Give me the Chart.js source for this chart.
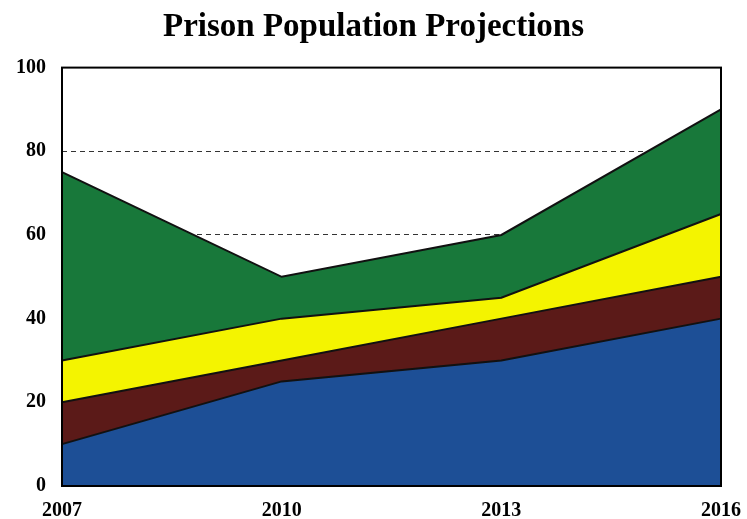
<!DOCTYPE html>
<html>
<head>
<meta charset="utf-8">
<script src="https://cdn.jsdelivr.net/npm/chart.js@4/dist/chart.umd.min.js"></script>
<style>
  html, body { margin: 0; padding: 0; background: #fff; }
  #wrap { width: 747px; height: 519px; }
</style>
</head>
<body>
<div id="wrap"><canvas id="myChart"></canvas></div>
<script>
// data (stacked values per layer)
const years = ["2007", "2010", "2013", "2016"];
const blueVals = [10, 25, 30, 40];
const maroonVals = [10, 5, 10, 10];
const yellowVals = [10, 10, 5, 15];
const greenVals = [45, 10, 15, 25];
const yTicks = [0, 20, 40, 60, 80, 100];

const serif = "'Liberation Serif', 'DejaVu Serif', serif";

function layer(label, vals, color, fill) {
    return {
        label: label,
        data: vals,
        backgroundColor: color,
        borderColor: "#111",
        borderWidth: 2,
        pointRadius: 0,
        fill: fill,
        tension: 0
    };
}

// black frame round the plot area
const frame = {
    id: "frame",
    afterDatasetsDraw(chart) {
        const a = chart.chartArea;
        const ctx = chart.ctx;
        ctx.save();
        ctx.strokeStyle = "#000";
        ctx.lineWidth = 2;
        ctx.strokeRect(a.left, a.top, a.right - a.left, a.bottom - a.top);
        ctx.restore();
    }
};

const ctx = document.getElementById("myChart").getContext("2d");
const chart = new Chart(ctx, {
    type: "line",
    data: {
        labels: years,
        datasets: [
            layer("Blue", blueVals, "#1d4f96", "origin"),
            layer("Maroon", maroonVals, "#5b1a18", "-1"),
            layer("Yellow", yellowVals, "#f4f400", "-1"),
            layer("Green", greenVals, "#18783a", "-1")
        ]
    },
    options: {
        responsive: true,
        maintainAspectRatio: false,
        animation: false,
        layout: { padding: 0 },
        plugins: {
            legend: { display: false },
            tooltip: { enabled: false },
            title: {
                display: true,
                text: "Prison Population Projections",
                color: "#000",
                font: { family: serif, size: 33, weight: "bold" },
                padding: { top: 8, bottom: 20 }
            }
        },
        scales: {
            x: {
                grid: { display: false },
                border: { display: false },
                ticks: {
                    color: "#000",
                    font: { family: serif, size: 20, weight: "bold" },
                    padding: 5,
                    maxRotation: 0
                },
                afterFit(scale) {
                    scale.height = 33;
                    scale.paddingRight = 26;
                }
            },
            y: {
                stacked: true,
                min: 0,
                max: 100,
                afterBuildTicks(scale) {
                    scale.ticks = yTicks.map(v => ({ value: v }));
                },
                grid: {
                    color: c => (c.tick.value === 0 || c.tick.value === 100) ? "rgba(0,0,0,0)" : "#333",
                    lineWidth: 1,
                    drawTicks: false
                },
                border: { display: false, dash: [5, 4] },
                ticks: {
                    color: "#000",
                    font: { family: serif, size: 20, weight: "bold" },
                    padding: 16
                },
                afterFit(scale) { scale.width = 62; }
            }
        }
    },
    plugins: [frame]
});
</script>
</body>
</html>
